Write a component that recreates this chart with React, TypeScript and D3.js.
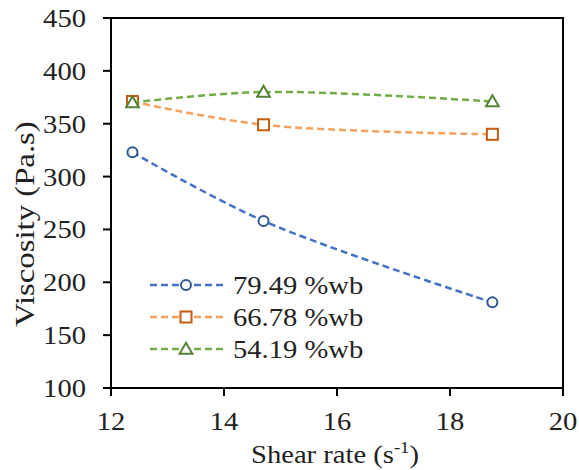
import React from 'react';
import * as d3 from 'd3';

// values
const shearRate = [12.38, 14.7, 18.75];
const visc7949 = [323, 258, 181];
const visc6678 = [371, 349, 340];
const visc5419 = [370, 380, 371];
const seriesNames = ['79.49 %wb', '66.78 %wb', '54.19 %wb'];
const xTicks = [12, 14, 16, 18, 20];
const yTicks = [100, 150, 200, 250, 300, 350, 400, 450];

const W = 579;
const H = 470;
const margin = { top: 18, right: 16, bottom: 82, left: 111 };
const font = '"Liberation Serif", "Times New Roman", serif';
const fs = 26;
const sx = 1.1; // the original text is a little wider than plain Times

const styles = [
  { line: '#4472C4', marker: '#2F5597', shape: 'circle' },
  { line: '#F4A15E', marker: '#C55A11', shape: 'square' },
  { line: '#70AD47', marker: '#548235', shape: 'triangle' },
];

function Marker({ shape, x, y, color }: { shape: string; x: number; y: number; color: string }) {
  if (shape === 'circle') {
    return <circle cx={x} cy={y} r={5} fill="white" stroke={color} strokeWidth={2} />;
  }
  if (shape === 'square') {
    return <rect x={x - 5.5} y={y - 5.5} width={11} height={11} fill="white" stroke={color} strokeWidth={2} />;
  }
  const tri = d3.symbol(d3.symbolTriangle, 70)() || '';
  return <path d={tri} transform={`translate(${x},${y + 1})`} fill="white" stroke={color} strokeWidth={2} />;
}

function Label({ x, y, anchor = 'start', children }: { x: number; y: number; anchor?: string; children: React.ReactNode }) {
  return (
    <text transform={`translate(${x},${y}) scale(${sx},1)`} textAnchor={anchor} fontFamily={font} fontSize={fs} fill="#222">
      {children}
    </text>
  );
}

export default function App() {
  const x = d3.scaleLinear().domain([12, 20]).range([margin.left, W - margin.right]);
  const y = d3.scaleLinear().domain([100, 450]).range([H - margin.bottom, margin.top]);

  const all = [visc7949, visc6678, visc5419];
  const line = d3
    .line<[number, number]>()
    .x(d => x(d[0]))
    .y(d => y(d[1]))
    .curve(d3.curveCatmullRom.alpha(0.5));

  const x0 = x(12);
  const x1 = x(20);
  const y0 = y(100);
  const y1 = y(450);

  return (
    <svg width={W} height={H} style={{ position: 'absolute', left: 0, top: 0 }}>
      <rect width={W} height={H} fill="white" />

      {all.map((vals, i) => {
        const pts = shearRate.map((s, j) => [s, vals[j]] as [number, number]);
        return (
          <g key={i}>
            <path d={line(pts) || ''} fill="none" stroke={styles[i].line} strokeWidth={2.5} strokeDasharray="7,4" />
            {pts.map((p, j) => (
              <Marker key={j} shape={styles[i].shape} x={x(p[0])} y={y(p[1])} color={styles[i].marker} />
            ))}
          </g>
        );
      })}

      {/* frame */}
      <rect x={x0} y={y1} width={x1 - x0} height={y0 - y1} fill="none" stroke="black" strokeWidth={2} />

      {yTicks.map(t => (
        <g key={t}>
          <line x1={x0 - 8} x2={x0} y1={y(t)} y2={y(t)} stroke="black" strokeWidth={2} />
          <Label x={x0 - 25} y={y(t) + 9} anchor="end">{t}</Label>
        </g>
      ))}

      {xTicks.map(t => (
        <g key={t}>
          <line x1={x(t)} x2={x(t)} y1={y0} y2={y0 + 8} stroke="black" strokeWidth={2} />
          <Label x={x(t)} y={430} anchor="middle">{t}</Label>
        </g>
      ))}

      <Label x={335} y={463} anchor="middle">
        Shear rate (s<tspan dy={-10} fontSize={17}>-1</tspan><tspan dy={10}>)</tspan>
      </Label>

      <text
        transform={`translate(34,224) rotate(-90) scale(1.17,1)`}
        textAnchor="middle"
        fontFamily={font}
        fontSize={28}
        fill="#222"
      >
        Viscosity (Pa.s)
      </text>

      {seriesNames.map((name, i) => {
        const ly = 285 + i * 32;
        return (
          <g key={name}>
            <line x1={150} x2={226} y1={ly} y2={ly} stroke={styles[i].line} strokeWidth={2.5} strokeDasharray="7,4" />
            <Marker shape={styles[i].shape} x={186} y={ly} color={styles[i].marker} />
            <Label x={233} y={ly + 9}>{name}</Label>
          </g>
        );
      })}
    </svg>
  );
}
